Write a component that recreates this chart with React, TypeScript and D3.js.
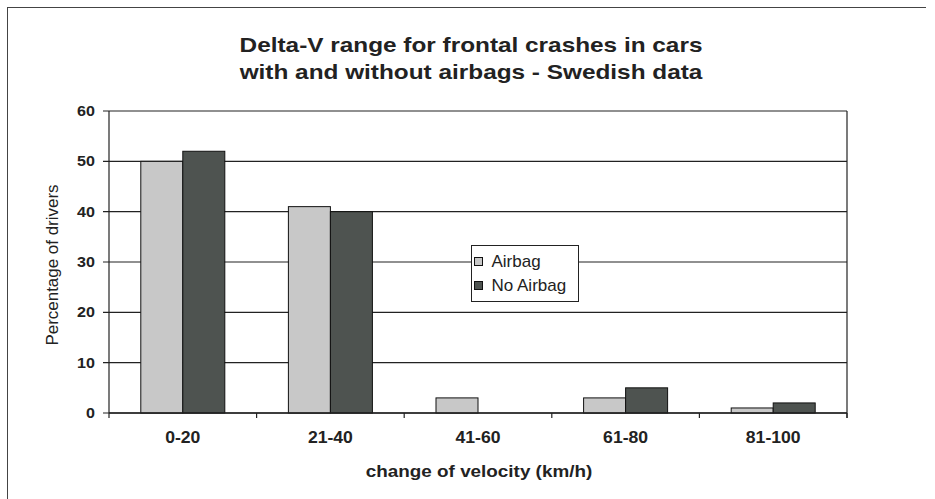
import React from "react";
import * as d3 from "d3";

const categories = ["0-20", "21-40", "41-60", "61-80", "81-100"];
const seriesNames = ["Airbag", "No Airbag"];
const airbag = [50, 41, 3, 3, 1];
const noAirbag = [52, 40, 0, 5, 2];
const yTicks = [0, 10, 20, 30, 40, 50, 60];
const titleLines = ["Delta-V range for frontal crashes in cars", "with and without airbags - Swedish data"];

const colors = ["#c8c8c8", "#4e5350"];
const W = 935, H = 499;
const plot = { left: 109, right: 847, top: 111, bottom: 413 };

export default function App() {
  const x = d3.scaleBand<string>().domain(categories).range([plot.left, plot.right]).paddingInner(0).paddingOuter(0);
  const inner = d3.scaleBand<string>().domain(seriesNames).range([0, x.bandwidth()]).paddingOuter(0.757).paddingInner(0);
  const y = d3.scaleLinear().domain([0, 60]).range([plot.bottom, plot.top]);
  const data = [airbag, noAirbag];
  const font = "'Liberation Sans', Arial, sans-serif";

  const boundaries = categories.map((c) => x(c)!).concat([plot.right]);

  return (
    <svg width={W} height={H} style={{ position: "absolute", left: 0, top: 0, background: "#fff" }} fontFamily={font}>
      <rect x={0} y={0} width={W} height={H} fill="#fff" />
      {/* outer frame */}
      <line x1={7} y1={7.5} x2={926} y2={7.5} stroke="#444" strokeWidth={1} />
      <line x1={7.5} y1={7} x2={7.5} y2={H} stroke="#444" strokeWidth={1} />
      {/* title */}
      {titleLines.map((t, i) => (
        <text key={i} transform={`translate(471, ${52 + i * 27}) scale(1.16, 1)`} textAnchor="middle" fontSize={21} fontWeight="bold" fill="#222">
          {t}
        </text>
      ))}
      {/* gridlines */}
      {yTicks.map((t) => (
        <line key={t} x1={plot.left - 6} x2={plot.right} y1={y(t)} y2={y(t)} stroke="#222" strokeWidth={1.2} />
      ))}
      {/* plot border */}
      <line x1={plot.left} x2={plot.left} y1={plot.top} y2={plot.bottom} stroke="#222" strokeWidth={1.2} />
      <line x1={plot.right} x2={plot.right} y1={plot.top} y2={plot.bottom + 5} stroke="#222" strokeWidth={1.2} />
      {/* bars */}
      {data.map((vals, si) =>
        vals.map((v, ci) =>
          v > 0 ? (
            <rect
              key={`${si}-${ci}`}
              x={x(categories[ci])! + inner(seriesNames[si])!}
              y={y(v)}
              width={inner.bandwidth()}
              height={y(0) - y(v)}
              fill={colors[si]}
              stroke="#111"
              strokeWidth={1}
            />
          ) : null
        )
      )}
      {/* x axis */}
      <line x1={plot.left} x2={plot.right} y1={plot.bottom} y2={plot.bottom} stroke="#222" strokeWidth={1.4} />
      {boundaries.map((b, i) => (
        <line key={i} x1={b} x2={b} y1={plot.bottom} y2={plot.bottom + 5} stroke="#222" strokeWidth={1.2} />
      ))}
      {/* y tick labels */}
      {yTicks.map((t) => (
        <text key={t} transform={`translate(95, ${y(t) + 5}) scale(1.15, 1)`} textAnchor="end" fontSize={14} fontWeight="bold" fill="#222">
          {t}
        </text>
      ))}
      {/* x tick labels */}
      {categories.map((c) => (
        <text key={c} transform={`translate(${x(c)! + x.bandwidth() / 2}, 443) scale(1.1, 1)`} textAnchor="middle" fontSize={16} fontWeight="bold" fill="#222">
          {c}
        </text>
      ))}
      {/* axis titles */}
      <text transform="translate(479, 477) scale(1.18, 1)" textAnchor="middle" fontSize={16} fontWeight="bold" fill="#222">
        change of velocity (km/h)
      </text>
      <text transform={`translate(57.5, 265) rotate(-90) scale(1.06, 1)`} textAnchor="middle" fontSize={16} fill="#222">
        Percentage of drivers
      </text>
      {/* legend */}
      <rect x={471.5} y={245.5} width={107} height={56} fill="#fff" stroke="#222" strokeWidth={1} />
      {seriesNames.map((s, i) => (
        <g key={s} transform={`translate(474.5, ${257.5 + i * 24})`}>
          <rect x={0} y={0} width={8} height={8} fill={colors[i]} stroke="#111" strokeWidth={1} />
          <text x={17} y={9.5} fontSize={17} fill="#222">
            {s}
          </text>
        </g>
      ))}
    </svg>
  );
}
